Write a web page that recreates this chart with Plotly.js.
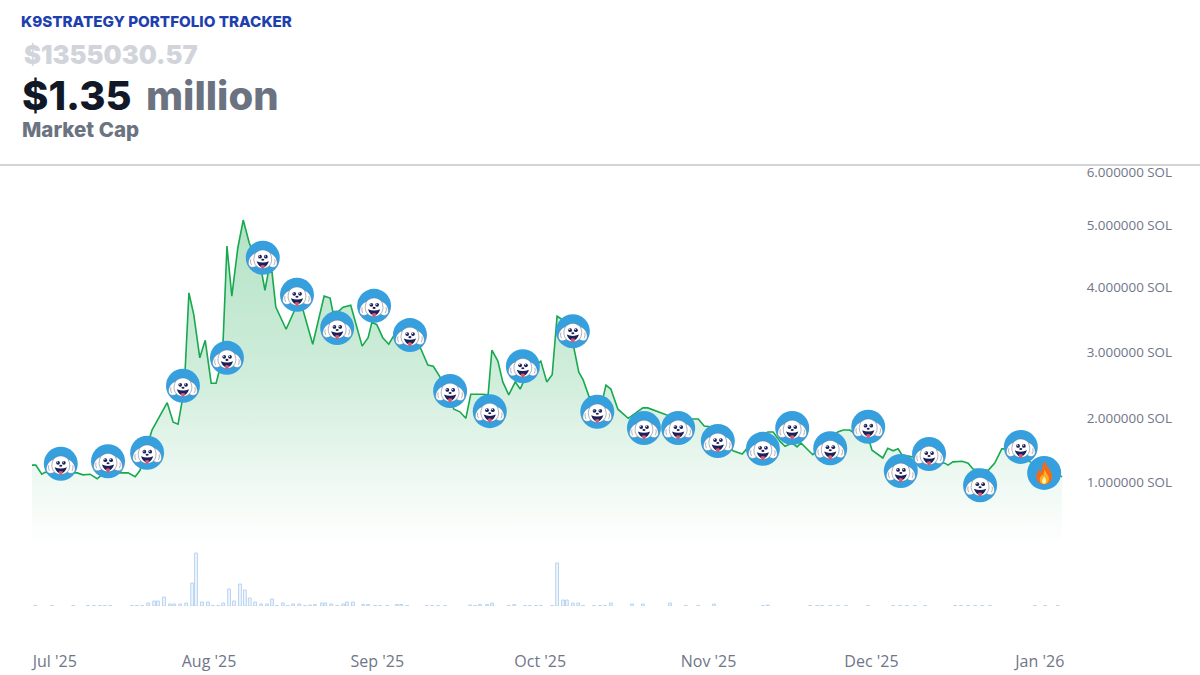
<![CDATA[<!DOCTYPE html>
<html><head><meta charset="utf-8">
<script src="https://cdn.plot.ly/plotly-3.0.1.min.js"></script>
<style>html,body{margin:0;padding:0;background:#fff}#c{width:1200px;height:675px}</style>
</head><body><div id="c"></div>
<script>
// Days since the first sample (2025-06-29 10:00) and market cap series in SOL (millions)
const START = Date.UTC(2025,5,29,10);
const priceDays = [0,.7,1.8,2.4,8.3,9.4,10.7,12,13.3,16.2,17.7,19,19.9,21.7,22.1,24.9,26,26.9,27.6,28.2,28.9,29.8,30.9,31.9,33,33.9,34.4,35.2,35.9,36.8,37.9,38.9,40,42.4,42.9,43.5,44.2,44.9,46.8,48.4,49.9,51.7,53.8,54.9,55.4,56.5,57.3,58.7,60.8,61.9,62.6,63.5,64.6,65.7,66.9,71.6,72.9,73.9,75.1,77.7,78.8,79.9,80.8,82.9,84,84.7,85.8,86.7,87.8,89,89.9,91.3,92.8,93.7,94.8,95.8,96.7,97.8,99.8,100.7,101.5,102.6,105.2,105.7,106.6,107.9,109.8,112.5,113.4,116.9,121.7,122.7,123.8,124.9,129.1,130.8,131.7,135.5,136.5,137.8,138.7,140,140.9,141.6,143.8,148.4,149.4,150.6,154.3,154.7,156.7,157.6,158.6,159.5,160.2,168.1,168.7,169.6,171.3,172.4,173.3,176.1,177.3,178.6,179.7,183.8,189.7];
const priceValues = [1.26,1.26,1.12,1.15,1.14,1.11,1.12,1.05,1.14,1.14,1.14,1.08,1.18,1.69,1.80,2.22,1.92,1.89,2.22,2.72,3.91,3.57,2.91,3.18,2.52,2.52,2.68,3.18,4.63,3.86,4.60,5.03,4.68,4.18,3.95,4.22,4.23,3.69,3.35,3.65,3.65,3.12,3.86,3.83,3.62,3.63,3.69,3.72,3.09,3.22,3.46,3.42,3.22,3.12,3.29,3.05,2.80,2.78,2.62,2.12,2.08,1.98,2.35,2.35,2.34,3.03,2.86,2.54,2.34,2.54,2.43,2.69,2.80,2.86,2.54,2.65,3.55,3.49,3.06,2.69,2.57,2.31,2.31,2.49,2.43,2.12,1.98,2.14,2.14,2.03,1.97,1.97,1.86,1.85,1.48,1.43,1.52,1.77,1.77,1.62,1.55,1.60,1.54,1.60,1.42,1.77,1.80,1.80,1.60,1.49,1.37,1.52,1.48,1.51,1.42,1.29,1.26,1.31,1.32,1.29,1.20,1.18,1.29,1.51,1.51,1.31,1.08];
// Buy events (badges) and the final burn event
const buyDays = [5.3,14,21.2,27.8,35.9,42.5,48.8,56.2,63,69.6,77,84.3,90.4,99.6,104.1,112.7,119,126.3,134.6,140,147,154,160,165.2,174.6,182.1];
const buyValues = [1.28,1.32,1.45,2.48,2.91,4.45,3.88,3.37,3.71,3.26,2.40,2.09,2.78,3.32,2.08,1.83,1.83,1.63,1.51,1.83,1.52,1.85,1.17,1.43,.95,1.54];
const burnDays = [186.4];
const burnValues = [1.14];
// Volume bars
const volumeDays = [.6,3.7,7.6,10.3,11.4,12.5,13.4,14.4,18.4,19.3,20.3,21.4,22.5,23.2,24.3,25.4,26.2,27.3,28.4,29.5,30.2,31.3,32.4,33.3,34.3,35.2,36.3,37.2,38.3,39.2,40.1,41.1,42.2,43.3,44.2,45.1,46.2,47.1,48.1,49.2,50.3,51.2,52.1,53.4,54,55.1,56.2,57.3,58,59.1,61,61.9,63.2,64.1,65.4,67.2,68,69.1,72.7,73.7,74.8,76.1,80.7,81.6,82.5,83.8,84.7,87.8,88.8,90.8,91.7,92.8,93.7,95.8,96.7,97.8,98.5,99.6,100.6,101.5,103.5,104.6,105.5,106.6,110.5,112.5,117.5,120.4,122.7,125.6,134.6,135.5,143.3,144.6,145.5,147,148.4,149.9,154,158.6,159.9,161.1,162.6,164.5,170,171.1,172.4,173.7,175,176.4,184.7,186.6,188.9];
const volumeValues = [.5,.5,.5,.5,.5,.5,.5,.5,.5,.5,.5,3,5,5,9,2,2,2,3,23,53,4,4,.5,.5,3,17,5,22,16,8,4,2,2,7,.5,3,.5,2,2,.5,1,1.5,3,3,2,.5,2,4,4,1.5,1.5,.5,.5,.5,1.5,1.5,.5,.5,.5,.5,.5,1,.5,1.5,1.5,3,.5,1.5,.5,.5,.5,.5,.5,43,6,6,3,3,.5,.5,.5,.5,3,2,2,3,.5,.5,2,.5,1,.5,.5,.5,.5,.5,.5,.5,.5,.5,.5,.5,.5,.5,.5,.5,.5,.5,.5,.5,.5,.5];
// Axis labels
const xTickDays = [4.2,32.6,63.6,93.6,124.6,154.6,185.6];
const xTickLabels = ["Jul '25","Aug '25","Sep '25","Oct '25","Nov '25","Dec '25","Jan '26"];
const yTickVals = [1,1.98,3,4,4.95,5.77];
const yTickLabels = ["1.000000 SOL","2.000000 SOL","3.000000 SOL","4.000000 SOL","5.000000 SOL","6.000000 SOL"];

const toDate = d => new Date(START + d*864e5).toISOString();

const W=1200,H=675,L=32,R=125,T=165,B=30;
const pw=W-L-R, ph=H-T-B;
const pxDay=5.43, pxVal=65, badge=34;
const X=px=>(px-L)/pw, Y=py=>(H-B-py)/ph;

const dog = `<svg xmlns="http://www.w3.org/2000/svg" viewBox="0 0 100 100">
<path d="M50 27C41 27 34 31 28 37C14 42 6 56 8 69C10 79 23 81 31 74C36 79 43 81 50 81C57 81 64 79 69 74C77 81 90 79 92 69C94 56 86 42 72 37C66 31 59 27 50 27Z" fill="#fff" stroke="#6a6f82" stroke-width="1.2"/>
<path d="M28 38C22 50 22 64 31 74M72 38C78 50 78 64 69 74M15 54C13 60 14 66 17 71M85 54C87 60 86 66 83 71" fill="none" stroke="#555a6e" stroke-width="1.4"/>
<circle cx="42" cy="47" r="5.5" fill="#1c2058"/><circle cx="59" cy="47" r="5.5" fill="#1c2058"/>
<circle cx="40.5" cy="45" r="1.8" fill="#fff"/><circle cx="57.5" cy="45" r="1.8" fill="#fff"/>
<ellipse cx="50" cy="56" rx="4.5" ry="3" fill="#1c2058"/>
<path d="M32 60Q50 68 68 60Q62 78 50 78Q38 78 32 60Z" fill="#1c2058"/>
<path d="M44 73Q50 69 56 73Q55 83 50 83Q45 83 44 73Z" fill="#d9566f"/>
</svg>`;
const fire = `<svg xmlns="http://www.w3.org/2000/svg" viewBox="0 0 100 100">
<path d="M52 14C55 29 70 38 73 56C76 72 64 84 50 84C36 84 25 73 27 58C28 50 33 44 36 38C38 44 40 47 43 48C42 36 45 25 52 14Z" fill="#f26a1b"/>
<path d="M52 40C54 50 64 56 64 67C64 77 57 83 50 83C42 83 36 77 37 68C38 62 42 60 44 55C46 58 47 59 48 59C48 52 49 46 52 40Z" fill="#fdb022"/>
<path d="M50 60C52 66 57 69 56 75C55 80 52 82 50 82C47 82 44 79 44 75C44 70 48 66 50 60Z" fill="#fff1a8"/>
</svg>`;
const uri = s => 'data:image/svg+xml;charset=utf-8,' + encodeURIComponent(s);
const img = (src,d,v) => ({source:uri(src),xref:'x',yref:'y',x:toDate(d),y:v,
  sizex:badge/pxDay*864e5,sizey:badge/pxVal,xanchor:'center',yanchor:'middle',sizing:'stretch',layer:'above'});

const traces = [
 {type:'bar',x:volumeDays.map(toDate),y:volumeValues,yaxis:'y2',width:0.52*864e5,
  marker:{color:'rgba(205,226,248,0.35)',line:{color:'#b9d4f1',width:1}},hoverinfo:'skip',showlegend:false},
 {type:'scatter',mode:'lines',x:priceDays.map(toDate),y:priceValues,
  line:{color:'#18a84f',width:1.6},fill:'tozeroy',
  fillgradient:{type:'vertical',start:5.1,stop:0,colorscale:[[0,'rgba(24,168,79,0.33)'],[0.5,'rgba(24,168,79,0.2)'],[0.8,'rgba(24,168,79,0.07)'],[1,'rgba(24,168,79,0)']]},
  hoverinfo:'skip',showlegend:false},
 {type:'scatter',mode:'markers',x:buyDays.concat(burnDays).map(toDate),y:buyValues.concat(burnValues),
  marker:{size:badge,color:'#36a0df',line:{width:0}},hoverinfo:'skip',showlegend:false}
];

const ann=(text,px,py,size,color,weight,family)=>({text,x:X(px),y:Y(py),xref:'paper',yref:'paper',xanchor:'left',yanchor:'middle',showarrow:false,
  font:{family:family||'Inter',size,color,weight}});

const layout = {
 width:W,height:H,autosize:false,paper_bgcolor:'#fff',plot_bgcolor:'#fff',
 margin:{l:L,r:R,t:T,b:B,pad:0},showlegend:false,bargap:0,
 font:{family:'Inter',color:'#6b7280'},
 title:{text:'K9STRATEGY PORTFOLIO TRACKER',x:21/W,xanchor:'left',xref:'container',y:1-22/H,yanchor:'middle',yref:'container',
   font:{family:'Inter',size:15.2,color:'#1e40af',weight:800}},
 xaxis:{type:'date',range:[toDate(0),toDate((W-R-L)/pxDay)],anchor:'free',position:0,showgrid:false,zeroline:false,showline:false,
   tickmode:'array',tickvals:xTickDays.map(toDate),ticktext:xTickLabels,ticks:'outside',ticklen:2,tickcolor:'rgba(0,0,0,0)',
   tickfont:{family:'Open Sans',size:16,color:'#6f7687'},automargin:false},
 yaxis:{domain:[Y(547),1],range:[0,(547-T)/pxVal],side:'right',showgrid:false,zeroline:false,showline:false,
   tickmode:'array',tickvals:yTickVals,ticktext:yTickLabels,ticks:'outside',ticklen:8,tickcolor:'rgba(0,0,0,0)',
   tickfont:{family:'Open Sans',size:13.4,color:'#6f7687'},automargin:false},
 yaxis2:{domain:[Y(606),Y(550)],range:[0,56],visible:false,fixedrange:true},
 images:buyDays.map((d,i)=>img(dog,d,buyValues[i])).concat(burnDays.map((d,i)=>img(fire,d,burnValues[i]))),
 shapes:[{type:'line',xref:'paper',yref:'paper',x0:X(0),x1:X(W),y0:Y(165),y1:Y(165),line:{color:'#d4d5d9',width:2}}],
 annotations:[
  ann('$1355030.57',22,55,25.5,'#d1d5db',900),
  ann('$1.35',20,95,40,'#111827',800),
  ann('million',144,95,40,'#6b7280',800),
  ann('Market Cap',20,130,20.5,'#6b7280',800)
 ]
};
Plotly.newPlot('c',traces,layout,{displayModeBar:false,staticPlot:true});
</script></body></html>]]>
